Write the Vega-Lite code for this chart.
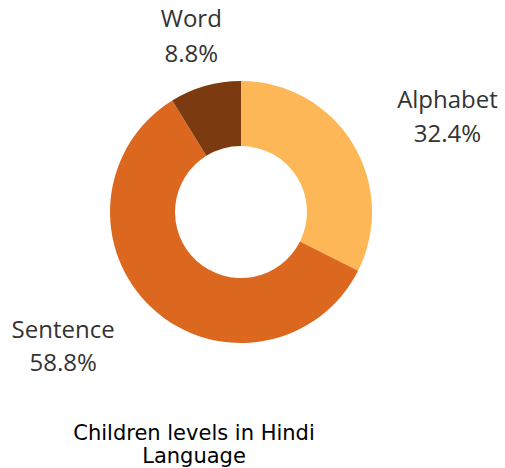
{
  "$schema": "https://vega.github.io/schema/vega-lite/v6.json",
  "width": 482,
  "height": 424,
  "padding": {"left": 0, "top": 0, "right": 23, "bottom": 44},
  "autosize": {"type": "none"},
  "background": "white",
  "config": {"view": {"stroke": null}},
  "title": {
    "text": ["Children levels in Hindi", "Language"],
    "orient": "bottom",
    "anchor": "middle",
    "frame": "group",
    "dx": -47,
    "offset": -1,
    "baseline": "top",
    "font": "DejaVu Sans",
    "fontWeight": 500,
    "fontSize": 21,
    "lineHeight": 23,
    "color": "#000000"
  },
  "data": {
    "values": [
      {"category": "Alphabet", "value": 32.4, "label": "Alphabet\n32.4%"},
      {"category": "Sentence", "value": 58.8, "label": "Sentence\n58.8%"},
      {"category": "Word", "value": 8.8, "label": "Word\n8.8%"}
    ]
  },
  "encoding": {
    "theta": {"field": "value", "type": "quantitative", "stack": true},
    "color": {
      "field": "category",
      "type": "nominal",
      "scale": {"domain": ["Alphabet", "Sentence", "Word"], "range": ["#FDB756", "#DC6820", "#7B3A10"]},
      "legend": null
    }
  },
  "layer": [
    {"mark": {"type": "arc", "outerRadius": 131, "innerRadius": 66}},
    {
      "mark": {"type": "text", "radius": 225, "dx": 15, "dy": 7, "font": "Open Sans", "fontSize": 24, "lineHeight": 34, "lineBreak": "\n", "align": "center", "baseline": "middle", "fill": "#333333"},
      "encoding": {
        "color": {"value": "#333333"},
        "text": {"condition": {"test": "datum.category === 'Alphabet'", "field": "label"}, "value": ""}
      }
    },
    {
      "mark": {"type": "text", "radius": 219, "dx": -30, "dy": -43, "font": "Open Sans", "fontSize": 24, "lineHeight": 33, "lineBreak": "\n", "align": "center", "baseline": "middle", "fill": "#333333"},
      "encoding": {
        "color": {"value": "#333333"},
        "text": {"condition": {"test": "datum.category === 'Sentence'", "field": "label"}, "value": ""}
      }
    },
    {
      "mark": {"type": "text", "radius": 182, "dy": -17, "font": "Open Sans", "fontSize": 24, "lineHeight": 35, "lineBreak": "\n", "align": "center", "baseline": "middle", "fill": "#333333"},
      "encoding": {
        "color": {"value": "#333333"},
        "text": {"condition": {"test": "datum.category === 'Word'", "field": "label"}, "value": ""}
      }
    }
  ]
}
